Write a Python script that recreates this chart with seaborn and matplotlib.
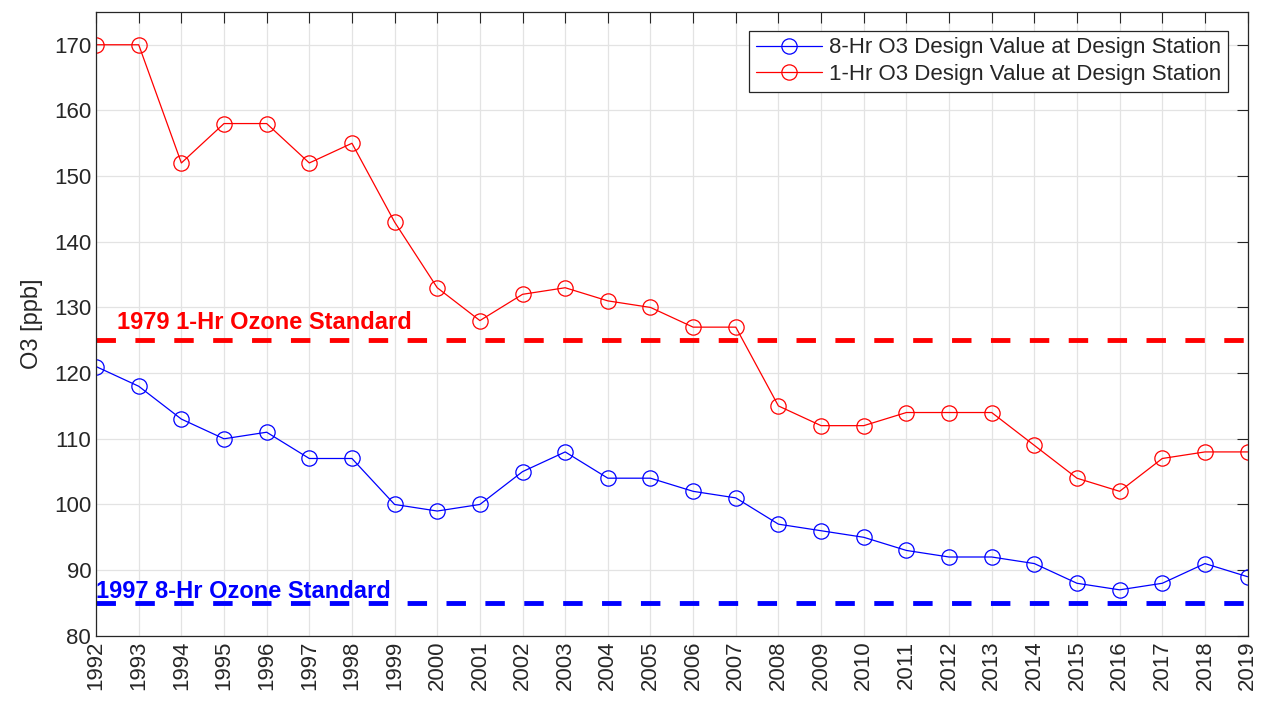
import pandas as pd
import matplotlib.pyplot as plt
import seaborn as sns

# Design values by year
years = list(range(1992, 2020))
dv_8hr = [121, 118, 113, 110, 111, 107, 107, 100, 99, 100, 105, 108, 104, 104,
          102, 101, 97, 96, 95, 93, 92, 92, 91, 88, 87, 88, 91, 89]
dv_1hr = [170, 170, 152, 158, 158, 152, 155, 143, 133, 128, 132, 133, 131, 130,
          127, 127, 115, 112, 112, 114, 114, 114, 109, 104, 102, 107, 108, 108]
std_1hr = 125
std_8hr = 85

lbl_8 = '8-Hr O3 Design Value at Design Station'
lbl_1 = '1-Hr O3 Design Value at Design Station'

df = pd.DataFrame({'year': years * 2,
                   'value': dv_8hr + dv_1hr,
                   'series': [lbl_8] * len(years) + [lbl_1] * len(years)})

sns.set_style('white')
plt.rcParams['font.family'] = ['Liberation Sans', 'DejaVu Sans']

fig = plt.figure(figsize=(12.64, 7.01), dpi=100)
ax = fig.add_axes([0.076, 0.093, 0.911, 0.890])

sns.lineplot(data=df, x='year', y='value', hue='series',
             palette={lbl_8: '#0000ff', lbl_1: '#ff0000'},
             marker='o', markersize=11, markerfacecolor='none',
             markeredgewidth=0.9, linewidth=0.9, ax=ax)
# markers need edge colours matching their line
for line in ax.get_lines():
    line.set_markeredgecolor(line.get_color())

ax.axhline(std_1hr, color='#ff0000', linewidth=3.5, dashes=(4, 4))
ax.axhline(std_8hr, color='#0000ff', linewidth=3.5, dashes=(4, 4))
ax.text(1992.5, 126.7, '1979 1-Hr Ozone Standard', color='#ff0000',
        fontsize=17, fontweight='bold')
ax.text(1992.0, 85.8, '1997 8-Hr Ozone Standard', color='#0000ff',
        fontsize=17, fontweight='bold')

ax.set_xlim(1992, 2019)
ax.set_ylim(80, 175)
ax.set_xticks(years)
ax.set_xticklabels([str(y) for y in years], rotation=90)
ax.set_yticks(range(80, 171, 10))
ax.tick_params(axis='both', labelsize=16, direction='in', length=8,
               top=True, right=True, color='#262626', labelcolor='#262626')
ax.grid(True, color='#e3e3e3', linewidth=0.9)
for s in ax.spines.values():
    s.set_color('#262626')
    s.set_linewidth(0.9)
ax.set_xlabel('')
ax.set_ylabel('O3 [ppb]', fontsize=17, color='#262626', labelpad=8)

leg = ax.legend(loc='upper right', fontsize=16, frameon=True, fancybox=False,
                edgecolor='#262626', framealpha=1, borderpad=0.3,
                handlelength=3.0, handletextpad=0.3, labelspacing=0.25,
                borderaxespad=0, bbox_to_anchor=(0.983, 0.97))
leg.get_frame().set_linewidth(0.9)

fig.savefig('out.png', dpi=100)
